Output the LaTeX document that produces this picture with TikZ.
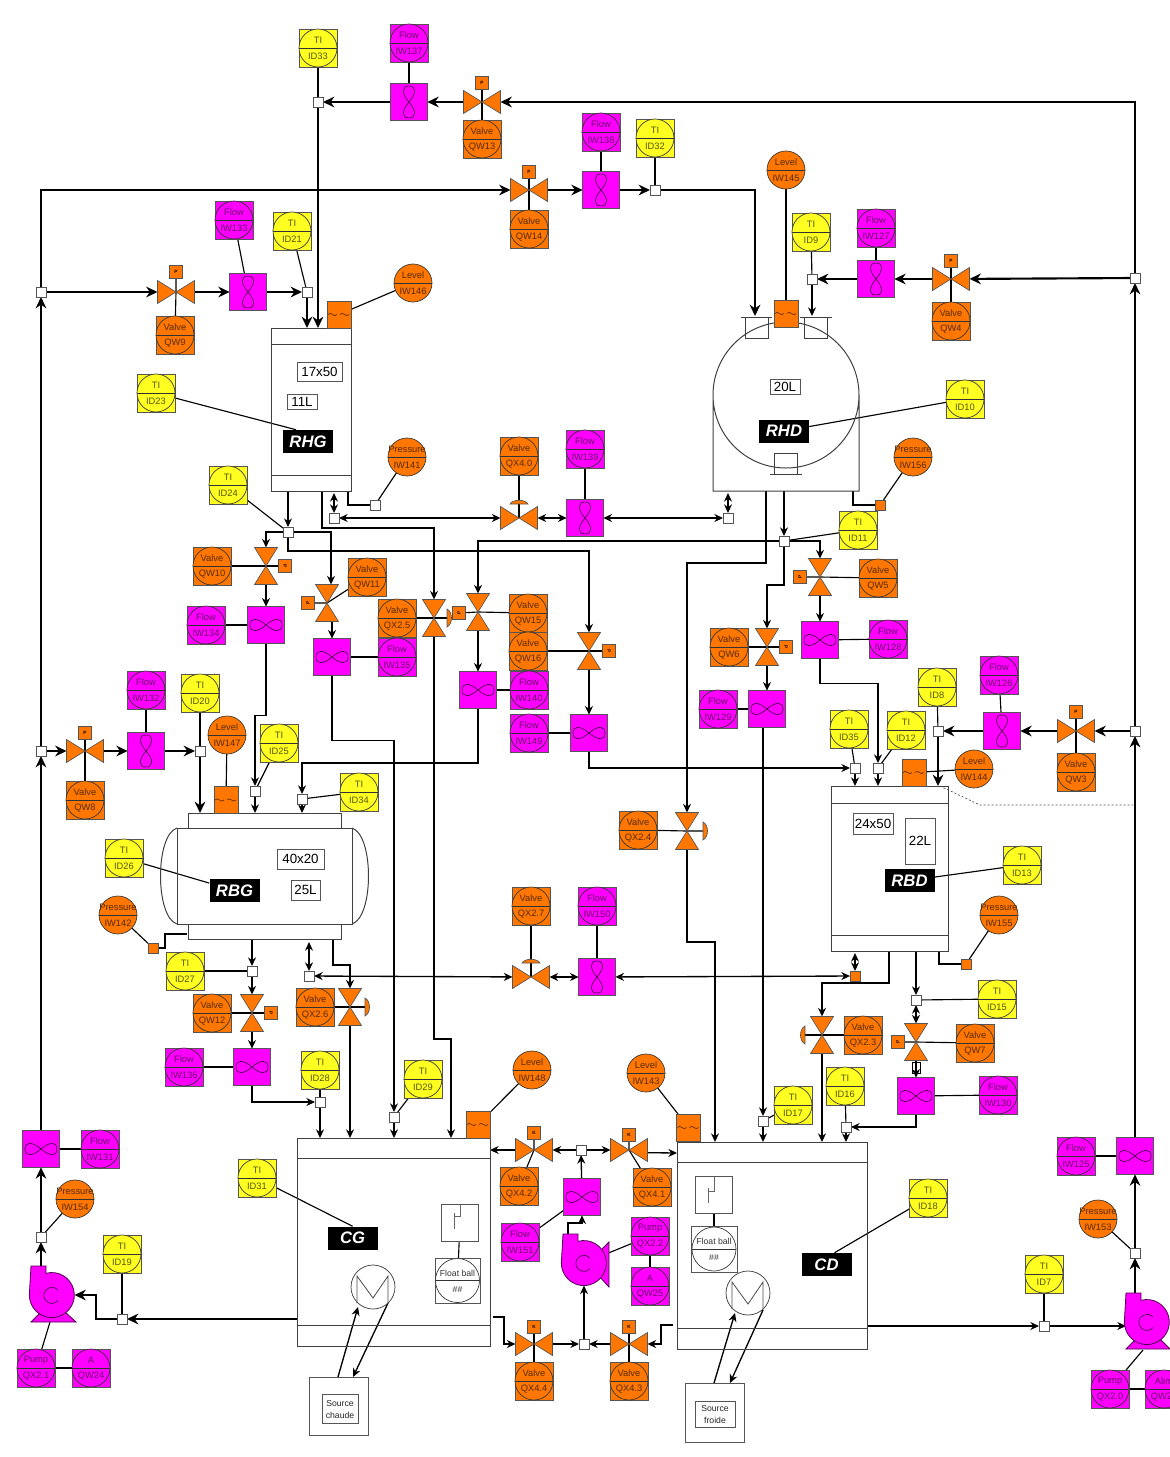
\documentclass[tikz,border=0pt]{standalone}
\usepackage{fontspec}
\setmainfont{Liberation Sans}
\usetikzlibrary{arrows.meta}
\pgfdeclarelayer{pipes}
\pgfsetlayers{pipes,main}
\definecolor{fillM}{HTML}{FF00FF}\definecolor{fillMtxt}{HTML}{6A006A}
\definecolor{fillO}{HTML}{FF7700}\definecolor{fillOtxt}{HTML}{552A00}
\definecolor{fillY}{HTML}{FFFF22}\definecolor{fillYtxt}{HTML}{555500}
\definecolor{edgeg}{HTML}{555555}
\tikzset{
 x=0.75pt,y=-0.75pt,
 instbox/.style={draw=edgeg,line width=0.6pt},
 instc/.style={circle,draw=black!80,line width=0.5pt,minimum size=28.5pt,inner sep=0,outer sep=0},
 instline/.style={draw=black!80,line width=0.5pt},
 instt/.style={inner sep=0,font=\fontsize{7}{8}\selectfont},
 meterbox/.style={rectangle,draw=edgeg,line width=0.6pt,fill=fillM,minimum size=27.5pt,inner sep=0,outer sep=0},
 eight/.style={draw=black!70!fillM,line width=0.5pt},
 jn/.style={rectangle,draw=edgeg,line width=0.6pt,fill=white,minimum size=7.5pt,inner sep=0,outer sep=0},
 jno/.style={rectangle,draw=edgeg,line width=0.6pt,fill=fillO,minimum size=7.5pt,inner sep=0,outer sep=0},
 vbH/.style={rectangle,minimum width=27.75pt,minimum height=17.25pt,inner sep=0,outer sep=0},
 vbV/.style={rectangle,minimum width=17.25pt,minimum height=27.75pt,inner sep=0,outer sep=0},
 vf/.style={draw=edgeg,line width=0.5pt,fill=fillO},
 actbox/.style={rectangle,draw=edgeg,line width=0.5pt,fill=fillO,minimum size=9.5pt,inner sep=0,outer sep=0,font=\fontsize{3.5}{4}\selectfont\bfseries},
 lvlbox/.style={rectangle,draw=edgeg,line width=0.5pt,fill=fillO,minimum width=18pt,minimum height=20pt,inner sep=0,outer sep=0},
 tank/.style={draw=black!75,line width=0.75pt},
 boxlab/.style={rectangle,draw=edgeg,line width=0.5pt,fill=white,inner sep=0,font=\fontsize{10}{11}\selectfont},
 taglab/.style={rectangle,fill=black,text=white,inner sep=0,minimum width=37.5pt,minimum height=17.25pt,font=\fontsize{12.5}{13}\selectfont\bfseries\itshape},
 pipeA/.style={line width=1pt,-{Stealth[length=6.5pt,width=6pt]}},
 pipeB/.style={line width=1.6pt,-{Stealth[length=8.5pt,width=8pt]}},
 pipeD/.style={line width=1pt,{Stealth[length=6.5pt,width=6pt]}-{Stealth[length=6.5pt,width=6pt]}},
 sig/.style={line width=0.85pt},
 pumpfill/.style={draw=black!70!fillM,line width=0.6pt,fill=fillM},
 pumpcore/.style={circle,minimum size=33.75pt,inner sep=0,outer sep=0},
 srcbox/.style={rectangle,draw=edgeg,line width=0.6pt,fill=white,inner sep=0},
 srctxt/.style={rectangle,draw=edgeg,line width=0.6pt,fill=white,inner sep=0,align=center,text=black!85,font=\fontsize{6.5}{9}\selectfont},
 floatc/.style={circle,draw=black!80,line width=0.5pt,fill=white,minimum size=33pt,inner sep=0,outer sep=0},
 hx/.style={circle,draw=black!75,line width=0.55pt,minimum size=33pt,inner sep=0,outer sep=0},
}
\newcommand\instS[6]{%
 \path[instbox,fill=#4] (#2-19,#3-19) rectangle (#2+19,#3+19);
 \node[instc,fill=#4](#1) at (#2,#3){};
 \draw[instline] (#1.west)--(#1.east);
 \node[instt,text=#4txt](#1t) at (#2,#3-8){#5};
 \node[instt,text=#4txt](#1b) at (#2,#3+8.5){#6};}
\newcommand\instC[6]{%
 \node[instc,fill=#4](#1) at (#2,#3){};
 \draw[instline] (#1.west)--(#1.east);
 \node[instt,text=#4txt](#1t) at (#2,#3-8){#5};
 \node[instt,text=#4txt](#1b) at (#2,#3+8.5){#6};}
\newcommand\meterH[3]{%
 \node[meterbox](#1) at (#2,#3){};
 \draw[eight] (#2-16,#3) .. controls (#2-16,#3-8) and (#2-8,#3-7) .. (#2,#3) .. controls (#2+8,#3+7) and (#2+16,#3+8) .. (#2+16,#3) .. controls (#2+16,#3-8) and (#2+8,#3-7) .. (#2,#3) .. controls (#2-8,#3+7) and (#2-16,#3+8) .. (#2-16,#3);}
\newcommand\meterV[3]{%
 \node[meterbox](#1) at (#2,#3){};
 \draw[eight] (#2,#3-16) .. controls (#2-8,#3-16) and (#2-7,#3-8) .. (#2,#3) .. controls (#2+7,#3+8) and (#2+8,#3+16) .. (#2,#3+16) .. controls (#2-8,#3+16) and (#2-7,#3+8) .. (#2,#3) .. controls (#2+7,#3-8) and (#2+8,#3-16) .. (#2,#3-16);}
\newcommand\valveH[3]{%
 \node[vbH](#1) at (#2,#3){};
 \path[vf] (#2-18.5,#3-11.5) -- (#2+18.5,#3+11.5) -- (#2+18.5,#3-11.5) -- (#2-18.5,#3+11.5) -- cycle;}
\newcommand\valveV[3]{%
 \node[vbV](#1) at (#2,#3){};
 \path[vf] (#2-11.5,#3-18.5) -- (#2+11.5,#3+18.5) -- (#2-11.5,#3+18.5) -- (#2+11.5,#3-18.5) -- cycle;}
\newcommand\act[5]{\node[actbox,rotate=#5](#1) at (#2,#3){#4};}
\newcommand\domeR[3]{\coordinate (#1) at (#2,#3); \path[vf] (#2,#3-9) .. controls (#2+6,#3-6) and (#2+6,#3+6) .. (#2,#3+9) -- cycle;}
\newcommand\domeL[3]{\coordinate (#1) at (#2,#3); \path[vf] (#2,#3-9) .. controls (#2-6,#3-6) and (#2-6,#3+6) .. (#2,#3+9) -- cycle;}
\newcommand\domeT[3]{\coordinate (#1) at (#2,#3); \path[vf] (#2-9,#3) .. controls (#2-6,#3-5) and (#2+6,#3-5) .. (#2+9,#3) -- cycle;}
\newcommand\lvl[3]{%
 \node[lvlbox](#1) at (#2,#3){};
 \draw[line width=0.45pt,black!70!fillO] (#2-11,#3) .. controls (#2-8,#3-4) and (#2-5,#3+4) .. (#2-2,#3) (#2+1,#3) .. controls (#2+4,#3-4) and (#2+7,#3+4) .. (#2+10,#3);}
\newcommand\J[3]{\node[jn](#1) at (#2,#3){};}
\newcommand\JO[3]{\node[jno](#1) at (#2,#3){};}
\newcommand\pumpbody[2]{%
 \path[pumpfill] (#1-21,#2-29) -- (#1-6,#2-29) -- (#1-6,#2-21.7) arc[start angle=-105,end angle=180,radius=22.5] -- cycle;
 \draw[eight] (#1+6,#2+5.5) arc[start angle=40,end angle=320,radius=8];}
\begin{document}
\begin{tikzpicture}
\useasboundingbox (0,0) rectangle (1170,1457);
% ---------- tanks
\draw[tank] (271,328) rectangle (351,491) (271,344)--(351,344) (271,475)--(351,475);
\draw[tank] (786,395) circle[radius=73] (713,395)--(713,491)--(859,491)--(859,395);
\draw[tank] (745,317) rectangle (768,338) (804,317) rectangle (827,338) (774,453) rectangle (797,474) (741,317)--(772,317) (800,317)--(832,317) (770,474)--(802,474);
\draw[tank] (177,828) rectangle (352,924) (188,828) rectangle (341,813) (188,924) rectangle (341,939);
\draw[tank] (177,828) .. controls (155,835) and (155,917) .. (177,924) (352,828) .. controls (374,835) and (374,917) .. (352,924);
\draw[tank] (831,786) rectangle (948,951) (831,803)--(948,803) (831,935)--(948,935);
\draw[tank] (297,1138) rectangle (490,1346) (297,1158)--(490,1158) (297,1325)--(490,1325);
\draw[tank] (677,1142) rectangle (867,1349) (677,1162)--(867,1162) (677,1328)--(867,1328);
% ---------- tank labels
\node[boxlab,minimum width=33.75pt,minimum height=14.25pt](lab1750) at (319.5,372){17x50};
\node[boxlab,minimum width=22.5pt,minimum height=11.25pt](lab11L) at (302,401.5){11L};
\node[taglab](tagRHG) at (308,441.5){RHG};
\node[boxlab,minimum width=22.5pt,minimum height=11pt](lab20L) at (785,387){20L};
\node[taglab](tagRHD) at (784,431){RHD};
\node[boxlab,minimum width=35pt,minimum height=15pt](lab4020) at (300.5,859){40x20};
\node[boxlab,minimum width=21.75pt,minimum height=15pt](lab25L) at (305.5,890){25L};
\node[taglab](tagRBG) at (234.5,890.5){RBG};
\node[boxlab,minimum width=30pt,minimum height=15.75pt](lab2450) at (873,823.5){24x50};
\node[boxlab,minimum width=22.5pt,minimum height=34.5pt](lab22L) at (920,841){22L};
\node[taglab](tagRBD) at (909.5,880.5){RBD};
\node[taglab](tagCG) at (352.5,1238){CG};
\node[taglab](tagCD) at (826.5,1264.5){CD};
% ---------- level sensors
\lvl{lvlG}{339}{314.5}\lvl{lvlD}{786}{313.5}\lvl{lvlB}{226}{800}\lvl{lvlR}{914}{772.5}\lvl{lvlC}{478}{1124.5}\lvl{lvlE}{688.5}{1127.5}
% ---------- float balls, exchangers, sources
\node[srcbox,minimum size=27.75pt](fbtopC) at (460,1222.5){};
\draw[line width=0.6pt,black!60] (460,1204)--(460,1216)--(454,1216) (454,1213)--(454,1229);
\path[instbox,fill=white] (435,1258) rectangle (480,1303);
\node[floatc](fbC) at (457.5,1280.5){};
\draw[instline] (fbC.west)--(fbC.east);
\node[instt,text=black!80,font=\fontsize{6.5}{8}\selectfont](fbCt) at (457.5,1273){Float ball};
\node[instt,text=black!80,font=\fontsize{6.5}{8}\selectfont](fbCb) at (457.5,1290){\#\#};
\node[srcbox,minimum size=27.75pt](fbtopE) at (714,1195){};
\draw[line width=0.6pt,black!60] (714,1177)--(714,1191)--(708,1191) (708,1188)--(708,1203);
\path[instbox,fill=white] (691,1226) rectangle (737,1272);
\node[floatc](fbE) at (714,1249){};
\draw[instline] (fbE.west)--(fbE.east);
\node[instt,text=black!80,font=\fontsize{6.5}{8}\selectfont](fbEt) at (714,1241.5){Float ball};
\node[instt,text=black!80,font=\fontsize{6.5}{8}\selectfont](fbEb) at (714,1258){\#\#};
\node[hx](hxC) at (373,1287){};
\draw[line width=0.6pt,black!70] (357,1303)--(357,1276)--(373,1298)--(388,1276)--(388,1303);
\node[hx](hxE) at (748,1293){};
\draw[line width=0.6pt,black!70] (732,1309)--(732,1282)--(748,1304)--(763,1282)--(763,1309);
\path[instbox,fill=white] (309,1377) rectangle (368,1435);
\node[srctxt,minimum width=27pt,minimum height=22pt](srcC) at (340,1409){Source\\chaude};
\path[instbox,fill=white] (685,1383) rectangle (744,1442);
\node[srctxt,minimum width=30pt,minimum height=19pt](srcE) at (715,1414.5){Source\\froide};
% ---------- coordinates on tanks and other free ends
\coordinate (pGa) at (307,328);\coordinate (pGb) at (318,328);
\coordinate (pG1) at (288,491);\coordinate (pG2) at (322,491);\coordinate (pG3) at (334,493);\coordinate (pG4) at (348,491);
\coordinate (pDa) at (755,316);\coordinate (pDb) at (812,316);
\coordinate (pD1) at (784,491);\coordinate (pD2) at (766,491);\coordinate (pD3) at (728,493);\coordinate (pD4) at (853,491);
\coordinate (pBa) at (200,813);\coordinate (pBb) at (255,813);\coordinate (pBc) at (302,813);
\coordinate (pB1) at (252,939);\coordinate (pB2) at (333,940);\coordinate (pB3) at (309,942);\coordinate (pB4) at (187,934);
\coordinate (pRa) at (938,786);\coordinate (pRb) at (855,786);\coordinate (pRc) at (878,786);
\coordinate (pR1) at (889,951);\coordinate (pR2) at (916,951);\coordinate (pR3) at (855,953);\coordinate (pR4) at (939,951);
\coordinate (pCa) at (320,1138);\coordinate (pCb) at (394,1138);\coordinate (pCc) at (350,1138);\coordinate (pCd) at (451,1138);
\coordinate (pCe) at (490,1150);\coordinate (pCf) at (493,1317);\coordinate (pCg) at (297,1319);
\coordinate (pEa) at (677,1153);\coordinate (pEb) at (715,1142);\coordinate (pEc) at (763,1142);\coordinate (pEd) at (822,1142);\coordinate (pEe) at (846,1142);
\coordinate (pEf) at (673,1325);\coordinate (pEg) at (867,1326);
\coordinate (dashA) at (940,786);\coordinate (dashB) at (1133,805);
\coordinate (srcCa) at (338,1377);\coordinate (hxCa) at (358,1307);\coordinate (hxCb) at (388,1303);\coordinate (srcCb) at (353,1377);
\coordinate (srcEa) at (714,1383);\coordinate (hxEa) at (735,1313);\coordinate (hxEb) at (763,1310);\coordinate (srcEb) at (730,1383);
\coordinate (pLo) at (41,1266);\coordinate (pLf) at (50,1322);
\coordinate (pRo) at (1135,1293);\coordinate (pRi) at (1126,1326);\coordinate (pRf) at (1143,1350);
% ---------- pumps
\path[pumpfill] (31,1322) -- (42,1311) -- (64,1311) -- (76,1322) -- cycle;\pumpbody{52}{1295}\node[pumpcore](pumpL) at (52,1295){};
\path[pumpfill] (1126,1349) -- (1137,1338) -- (1159,1338) -- (1170,1349) -- cycle;\pumpbody{1147}{1322}\node[pumpcore](pumpR) at (1147,1322){};
\path[pumpfill] (609,1242) -- (598,1253) -- (598,1275) -- (609,1287) -- cycle;\pumpbody{584}{1263}\node[pumpcore](pumpC) at (584,1263){};
\coordinate (pCo) at (568,1234);
% ---------- flow meters
\meterV{m137}{409}{102}\meterV{m138}{601}{190}\meterV{m127}{876}{279}\meterV{m133}{248}{292}\meterV{m139}{585}{518}\meterV{m126}{1002}{731}\meterV{m132}{146}{751}\meterV{m150}{597}{977}
\meterH{m134}{266}{625}\meterH{m135}{332}{657}\meterH{m140}{478}{690}\meterH{m149}{589}{733}\meterH{m128}{820}{640}\meterH{m129}{767}{709}\meterH{m136}{252}{1067}\meterH{m130}{916}{1096}\meterH{m151}{582}{1197}\meterH{m131}{41}{1149}\meterH{m125}{1135}{1156}
% ---------- valves
\valveH{v13}{482}{102}\act{a13}{482}{83}{P}{0}
\valveH{v14}{529}{190}\act{a14}{529}{172}{P}{0}
\valveH{v4}{951}{279}\act{a4}{951}{261}{P}{0}
\valveH{v9}{176}{292}\act{a9}{176}{272}{P}{0}
\valveH{v8}{85}{751}\act{a8}{85}{733}{P}{0}
\valveH{v3}{1076}{731}\act{a3}{1076}{712}{P}{0}
\valveH{v40}{519}{518}\domeT{d40}{519}{504}
\valveH{v27}{531}{977}\domeT{d27}{531}{963}
\valveV{v10}{266}{566}\act{a10}{285}{566}{P}{270}
\valveV{v11}{327}{603}\act{a11}{308}{603}{P}{90}
\valveV{v25}{434}{618}\domeR{d25}{447}{618}
\valveV{v15}{478}{612}\act{a15}{459}{613}{P}{90}
\valveV{v16}{589}{651}\act{a16}{609}{651}{P}{270}
\valveV{v5}{820}{577}\act{a5}{800}{577}{P}{90}
\valveV{v6}{767}{647}\act{a6}{786}{647}{P}{270}
\valveV{v24}{687}{831}\domeR{d24}{703}{831}
\valveV{v12}{252}{1013}\act{a12}{271}{1013}{P}{270}
\valveV{v26}{350}{1007}\domeR{d26}{365}{1007}
\valveV{v23}{822}{1035}\domeL{d23}{805}{1035}
\valveV{v7}{916}{1042}\act{a7}{898}{1042}{P}{90}
\valveH{v42}{534}{1150}\act{a42}{534}{1133}{K}{0}
\valveH{v41}{629}{1150}\act{a41}{629}{1135}{K}{0}
\valveH{v44}{534}{1344}\act{a44}{534}{1327}{K}{0}
\valveH{v43}{629}{1344}\act{a43}{629}{1327}{K}{0}
% ---------- junctions
\J{j318}{318}{102}\J{j655}{655}{190}\J{j812}{812}{279}\J{jR1}{1135}{278}\J{jL1}{41}{292}\J{j307}{307}{292}
\J{j334}{334}{518}\J{j375}{375}{505}\J{j728}{728}{518}\J{j784}{784}{541}\J{j288}{288}{532}
\J{jL2}{41}{751}\J{j200}{200}{751}\J{j255}{255}{791}\J{j302}{302}{799}\J{j855}{855}{768}\J{j878}{878}{768}
\J{j938}{938}{731}\J{jR2}{1135}{731}\J{j252}{252}{971}\J{j309}{309}{976}\J{j916}{916}{1000}
\J{j320}{320}{1102}\J{j394}{394}{1117}\J{j763}{763}{1121}\J{j846}{846}{1127}\J{j581}{581}{1150}\J{j584}{584}{1344}
\J{jR3}{1135}{1253}\J{jL3}{41}{1237}\J{j122}{122}{1319}\J{j1044}{1044}{1326}
\JO{j880}{880}{505}\JO{j153}{153}{948}\JO{j855b}{855}{976}\JO{j966}{966}{964}
% ---------- instruments
\instS{id33}{318}{48}{fillY}{TI}{ID33}
\instS{iw137}{409}{43}{fillM}{Flow}{IW137}
\instS{qw13}{482}{139}{fillO}{Valve}{QW13}
\instS{iw138}{601}{132}{fillM}{Flow}{IW138}
\instS{id32}{655}{138}{fillY}{TI}{ID32}
\instC{iw145}{786}{170}{fillO}{Level}{IW145}
\instS{qw14}{529}{229}{fillO}{Valve}{QW14}
\instS{id9}{811}{232}{fillY}{TI}{ID9}
\instS{iw127}{876}{228}{fillM}{Flow}{IW127}
\instS{qw4}{951}{321}{fillO}{Valve}{QW4}
\instS{iw133}{234}{220}{fillM}{Flow}{IW133}
\instS{id21}{292}{231}{fillY}{TI}{ID21}
\instC{iw146}{413}{283}{fillO}{Level}{IW146}
\instS{qw9}{175}{335}{fillO}{Valve}{QW9}
\instS{id23}{156}{393}{fillY}{TI}{ID23}
\instS{id10}{965}{399}{fillY}{TI}{ID10}
\instC{iw141}{407}{457}{fillO}{Pressure}{IW141}
\instS{qx40}{519}{456}{fillO}{Valve}{QX4.0}
\instS{iw139}{585}{449}{fillM}{Flow}{IW139}
\instC{iw156}{913}{457}{fillO}{Pressure}{IW156}
\instS{id24}{228}{485}{fillY}{TI}{ID24}
\instS{id11}{858}{530}{fillY}{TI}{ID11}
\instS{qw10}{212}{566}{fillO}{Valve}{QW10}
\instS{qw11}{367}{577}{fillO}{Valve}{QW11}
\instS{qw5}{878}{578}{fillO}{Valve}{QW5}
\instS{qx25}{397}{618}{fillO}{Valve}{QX2.5}
\instS{qw15}{528}{613}{fillO}{Valve}{QW15}
\instS{qw16}{528}{651}{fillO}{Valve}{QW16}
\instS{iw134}{206}{625}{fillM}{Flow}{IW134}
\instS{iw135}{397}{657}{fillM}{Flow}{IW135}
\instS{iw128}{888}{639}{fillM}{Flow}{IW128}
\instS{qw6}{729}{647}{fillO}{Valve}{QW6}
\instS{iw140}{529}{690}{fillM}{Flow}{IW140}
\instS{iw149}{529}{733}{fillM}{Flow}{IW149}
\instS{iw132}{146}{690}{fillM}{Flow}{IW132}
\instS{id20}{200}{693}{fillY}{TI}{ID20}
\instC{iw147}{227}{735}{fillO}{Level}{IW147}
\instS{id25}{279}{743}{fillY}{TI}{ID25}
\instS{id34}{359}{792}{fillY}{TI}{ID34}
\instS{iw129}{718}{709}{fillM}{Flow}{IW129}
\instS{id8}{937}{687}{fillY}{TI}{ID8}
\instS{iw126}{999}{675}{fillM}{Flow}{IW126}
\instS{id35}{849}{729}{fillY}{TI}{ID35}
\instS{id12}{906}{730}{fillY}{TI}{ID12}
\instC{iw144}{974}{769}{fillO}{Level}{IW144}
\instS{qw8}{85}{800}{fillO}{Valve}{QW8}
\instS{qw3}{1076}{772}{fillO}{Valve}{QW3}
\instS{qx24}{638}{830}{fillO}{Valve}{QX2.4}
\instS{id26}{124}{858}{fillY}{TI}{ID26}
\instS{id13}{1022}{865}{fillY}{TI}{ID13}
\instC{iw142}{118}{915}{fillO}{Pressure}{IW142}
\instS{qx27}{531}{906}{fillO}{Valve}{QX2.7}
\instS{iw150}{597}{906}{fillM}{Flow}{IW150}
\instC{iw155}{999}{915}{fillO}{Pressure}{IW155}
\instS{id27}{185}{971}{fillY}{TI}{ID27}
\instS{id15}{997}{999}{fillY}{TI}{ID15}
\instS{qw12}{212}{1013}{fillO}{Valve}{QW12}
\instS{qx26}{315}{1007}{fillO}{Valve}{QX2.6}
\instS{qx23}{863}{1035}{fillO}{Valve}{QX2.3}
\instS{qw7}{975}{1043}{fillO}{Valve}{QW7}
\instS{iw136}{184}{1067}{fillM}{Flow}{IW136}
\instS{id28}{320}{1070}{fillY}{TI}{ID28}
\instS{id29}{423}{1079}{fillY}{TI}{ID29}
\instC{iw148}{532}{1070}{fillO}{Level}{IW148}
\instC{iw143}{646}{1073}{fillO}{Level}{IW143}
\instS{id17}{793}{1105}{fillY}{TI}{ID17}
\instS{id16}{845}{1086}{fillY}{TI}{ID16}
\instS{iw130}{998}{1095}{fillM}{Flow}{IW130}
\instS{qx42}{519}{1186}{fillO}{Valve}{QX4.2}
\instS{qx41}{652}{1187}{fillO}{Valve}{QX4.1}
\instS{iw151}{520}{1242}{fillM}{Flow}{IW151}
\instS{qx22}{650}{1236}{fillM}{Pump}{QX2.2}
\instS{qw25}{650}{1286}{fillM}{A}{QW25}
\instS{qx44}{534}{1381}{fillO}{Valve}{QX4.4}
\instS{qx43}{629}{1381}{fillO}{Valve}{QX4.3}
\instS{id31}{257}{1178}{fillY}{TI}{ID31}
\instS{id18}{928}{1198}{fillY}{TI}{ID18}
\instS{id19}{122}{1254}{fillY}{TI}{ID19}
\instS{iw131}{100}{1149}{fillM}{Flow}{IW131}
\instC{iw154}{75}{1199}{fillO}{Pressure}{IW154}
\instS{iw125}{1076}{1156}{fillM}{Flow}{IW125}
\instC{iw153}{1098}{1219}{fillO}{Pressure}{IW153}
\instS{id7}{1044}{1274}{fillY}{TI}{ID7}
\instS{qx21}{36}{1368}{fillM}{Pump}{QX2.1}
\instS{qw24}{91}{1368}{fillM}{A}{QW24}
\instS{qx20}{1110}{1389}{fillM}{Pump}{QX2.0}
\instS{qw23}{1164}{1389}{fillM}{Alim}{QW23}
% ---------- connectors
\begin{pgfonlayer}{pipes}
\draw[pipeB] (jR1) |- (v13);
\draw[pipeB] (v13) -- (m137);
\draw[pipeB] (m137) -- (j318);
\draw[pipeB] (j318) -- (pGb);
\draw[pipeB] (jL1) |- (v14);
\draw[pipeB] (v14) -- (m138);
\draw[pipeB] (m138) -- (j655);
\draw[pipeB] (j655) -| (pDa);
\draw[pipeB] (jR1) -- (v4);
\draw[pipeB] (v4) -- (m127);
\draw[pipeB] (m127) -- (j812);
\draw[pipeA] (j812) -- (pDb);
\draw[pipeB] (jL1) -- (v9);
\draw[pipeB] (v9) -- (m133);
\draw[pipeB] (m133) -- (j307);
\draw[pipeB] (j307) -- (pGa);
\draw[pipeB] (jL2) -- (jL1);
\draw[pipeB] (m131) -- (jL2);
\draw[pipeB] (jL2) -- (v8);
\draw[pipeB] (v8) -- (m132);
\draw[pipeB] (m132) -- (j200);
\draw[pipeB] (j200) -- (pBa);
\draw[pipeB] (m125) -- (jR2);
\draw[pipeB] (jR2) -- (jR1);
\draw[pipeB] (jR2) -- (v3);
\draw[pipeB] (v3) -- (m126);
\draw[pipeB] (m126) -- (j938);
\draw[pipeB] (j938) -- (pRa);
% RHG outlets
\draw[pipeA] (pG1) -- (j288);
\draw[pipeA] (j288) -| (v10.north);
\draw[pipeA] (j288) -| ([xshift=3pt]v11.north);
\draw[pipeA] (j288.south) -- ++(0,14) -| (v16.north);
\draw[pipeA] (pG2) -- ++(0,37) -| (v25.north);
\draw[pipeA] (v25.south) -- (434,1039) -| (pCd);
\draw[pipeA] (v10) -- (m134);
\draw[pipeA] (m134.south) -- ++(0,72) -| (j255.north);
\draw[pipeA] (j255) -- (pBb);
\draw[pipeA] (v11.south -| m135.north) -- (m135.north);
\draw[pipeA] (m135.south) -- ++(0,65) -| (j394.north);
\draw[pipeA] (j394) -- (pCb);
\draw[pipeA] (v15) -- (m140);
\draw[pipeA] (m140.south) -- ++(0,54.5) -| (j302.north);
\draw[pipeA] (j302) -- (pBc);
\draw[pipeA] (v16) -- (m149);
\draw[pipeA] (m149.south) |- (j855);
\draw[pipeA] (j855) -- (pRb);
% RHD outlets
\draw[pipeA] (pD1) -- (j784);
\draw[pipeA] (j784) -| (v15.north);
\draw[pipeA] (j784) -| (v5.north);
\draw[pipeA] (j784.south) -- ++(0,39) -| (v6.north);
\draw[pipeA] (v5) -- (m128);
\draw[pipeA] (m128.south) -- ++(0,25) -| (j878.north);
\draw[pipeA] (j878) -- (pRc);
\draw[pipeA] (v6) -- (m129);
\draw[pipeA] (m129.south -| j763.north) -- (j763.north);
\draw[pipeA] (j763) -- (pEc);
\draw[pipeA] (pD2) -- ++(0,72) -| (v24.north);
\draw[pipeA] (v24.south) -- (687,942) -| (pEb);
% balance lines
\draw[pipeD] (pG3) -- (j334.north);
\draw[pipeD] (j334) -- (v40);
\draw[pipeD] (v40) -- (m139);
\draw[pipeD] (m139) -- (j728);
\draw[pipeD] (pD3) -- (j728.north);
\draw[sig] (pG4) |- (j375);
\draw[sig] (pD4) |- (j880);
\draw[pipeD] (pB3) -- (j309.north);
\draw[pipeD] (j309) -- (v27);
\draw[pipeD] (v27) -- (m150);
\draw[pipeD] (m150) -- (j855b);
\draw[pipeD] (pR3) -- (j855b.north);
% RBG outlets
\draw[pipeA] (pB1) -- (j252);
\draw[pipeA] (j252) -- (v12);
\draw[pipeA] (v12) -- (m136);
\draw[pipeA] (m136.south) |- (j320);
\draw[pipeA] (j320) -- (pCa);
\draw[pipeA] (pB2) -- ++(0,25) -| (v26.north);
\draw[pipeA] (v26.south) -- (pCc);
\draw[sig] (pB4) -- (165,934) -- (165,948) -- (j153);
% RBD outlets
\draw[pipeA] (pR1) -- ++(0,32) -| (v23.north);
\draw[pipeA] (v23.south) -- (pEd);
\draw[pipeA] (pR2) -- (j916);
\draw[pipeD] (j916) -- (v7.north);
\draw[draw=black,line width=0.7pt,fill=white] (912,1062) rectangle (920,1073);
\draw[pipeA] (v7) -- (m130);
\draw[pipeA] (m130.south) |- (j846);
\draw[pipeA] (j846) -- (pEe);
\draw[sig] (pR4) |- (j966);
% CG - CD loop
\draw[pipeA] (m151) -- (j581);
\draw[pipeA] (j581) -- (v42);
\draw[pipeA] (v42) -- (pCe);
\draw[pipeA] (j581) -- (v41);
\draw[pipeA] ([yshift=-2pt]v41.east) -- (pEa);
\draw[pipeA] (pCo) -- ++(0,-11) -| (m151.south);
\draw[pipeA] (j584) -- (pumpC.south);
\draw[pipeA] (v44) -- (j584);
\draw[pipeA] (v43) -- (j584);
\draw[pipeA] (pCf) -- ++(11,0) |- (v44);
\draw[pipeA] (pEf) -- ++(-12,0) |- (v43);
% circulation
\draw[pipeB] (pCg) -- (j122);
\draw[pipeB] (j122) -- ++(-26,0) |- (pumpL);
\draw[pipeB] (pLo) -- (jL3);
\draw[pipeB] (jL3) -- (m131);
\draw[pipeA] (pEg) -- (j1044);
\draw[pipeA] (j1044) -- (pRi);
\draw[pipeB] (pRo) -- (jR3);
\draw[pipeB] (jR3) -- (m125);
\draw[pipeA] (srcCa) -- (hxCa);
\draw[pipeA] (hxCb) -- (srcCb);
\draw[pipeA] (srcEa) -- (hxEa);
\draw[pipeA] (hxEb) -- (srcEb);
% signal lines
\draw[sig] (id33) -- (j318);
\draw[sig] (iw137) -- (m137);
\draw[sig] (qw13) -- (v13.center) -- (a13);
\draw[sig] (iw138) -- (m138);
\draw[sig] (id32) -- (j655);
\draw[sig] (iw145) -- (lvlD);
\draw[sig] (qw14) -- (v14.center) -- (a14);
\draw[sig] (id9) -- (j812);
\draw[sig] (iw127) -- (m127);
\draw[sig] (qw4) -- (v4.center) -- (a4);
\draw[sig] (iw133) -- (m133);
\draw[sig] (id21) -- (j307);
\draw[sig] (iw146) -- (lvlG);
\draw[sig] (qw9) -- (v9.center) -- (a9);
\draw[sig] (id23) -- ([xshift=-9pt]tagRHG.north);
\draw[sig] (id10) -- (tagRHD);
\draw[sig] (iw141) -- (j375);
\draw[sig] (qx40) -- (d40);
\draw[sig] (d40) -- (v40.center);
\draw[sig] (iw139) -- (m139);
\draw[sig] (iw156) -- (j880);
\draw[sig] (id24) -- (j288);
\draw[sig] (id11) -- (j784);
\draw[sig] (qw10) -- (v10.center) -- (a10);
\draw[sig] (qw11) -- (v11.center) -- (a11);
\draw[sig] (qw5) -- (v5.center) -- (a5);
\draw[sig] (qx25) -- (v25.center) -- (d25);
\draw[sig] (qw15) -- (v15.center) -- (a15);
\draw[sig] (qw16) -- (v16.center) -- (a16);
\draw[sig] (iw134) -- (m134);
\draw[sig] (iw135) -- (m135);
\draw[sig] (iw128) -- (m128);
\draw[sig] (qw6) -- (v6.center) -- (a6);
\draw[sig] (iw140) -- (m140);
\draw[sig] (iw149) -- (m149);
\draw[sig] (iw132) -- (m132);
\draw[sig] (id20) -- (j200);
\draw[sig] (iw147) -- (lvlB);
\draw[sig] (id25) -- (j255);
\draw[sig] (id34) -- (j302);
\draw[sig] (iw129) -- (m129);
\draw[sig] (id8) -- (j938);
\draw[sig] (iw126) -- (m126);
\draw[sig] (id35) -- (j855);
\draw[sig] (id12) -- (j878);
\draw[sig] (iw144) -- (lvlR);
\draw[sig] (qw8) -- (v8.center) -- (a8);
\draw[sig] (qw3) -- (v3.center) -- (a3);
\draw[sig] (qx24) -- (v24.center) -- (d24);
\draw[sig] (id26) -- (tagRBG);
\draw[sig] (id13) -- (tagRBD);
\draw[sig] (iw142) -- (j153);
\draw[sig] (qx27) -- (d27);
\draw[sig] (d27) -- (v27.center);
\draw[sig] (iw150) -- (m150);
\draw[sig] (iw155) -- (j966);
\draw[sig] (id27) -- (j252);
\draw[sig] (id15) -- (j916);
\draw[sig] (qw12) -- (v12.center) -- (a12);
\draw[sig] (qx26) -- (v26.center) -- (d26);
\draw[sig] (qx23) -- (v23.center) -- (d23);
\draw[sig] (qw7) -- (v7.center) -- (a7);
\draw[sig] (iw136) -- (m136);
\draw[sig] (id28) -- (j320);
\draw[sig] (id29) -- (j394);
\draw[sig] (iw148) -- (lvlC);
\draw[sig] (iw143) -- (lvlE);
\draw[sig] (id17) -- (j763);
\draw[sig] (id16) -- (j846);
\draw[sig] (iw130) -- (m130);
\draw[sig] (qx42) -- (v42.center) -- (a42);
\draw[sig] (qx41) -- (v41.center) -- (a41);
\draw[sig] (iw151) -- (m151);
\draw[sig] (qx22) -- (pumpC);
\draw[sig] (qx22) -- (qw25);
\draw[sig] (qx44) -- (v44.center) -- (a44);
\draw[sig] (qx43) -- (v43.center) -- (a43);
\draw[sig] (id31) -- (tagCG.north);
\draw[sig] (id18) -- ([xshift=6pt]tagCD.north);
\draw[sig] (id19) -- (j122);
\draw[sig] (iw131) -- (m131);
\draw[sig] (iw154) -- (jL3);
\draw[sig] (iw125) -- (m125);
\draw[sig] (iw153) -- (jR3);
\draw[sig] (id7) -- (j1044);
\draw[sig] (pLf) -- (qx21);
\draw[sig] (qx21) -- (qw24);
\draw[sig] (pRf) -- (qx20);
\draw[sig] (qx20) -- (qw23);
\draw[sig] (fbtopC) -- (fbC);
\draw[sig] (fbtopE) -- (fbE);
\draw[line width=0.5pt,dash pattern=on 1.5pt off 1.5pt,black!70] (dashA) -- (980,805) -- (dashB);
\end{pgfonlayer}
\end{tikzpicture}
\end{document}
